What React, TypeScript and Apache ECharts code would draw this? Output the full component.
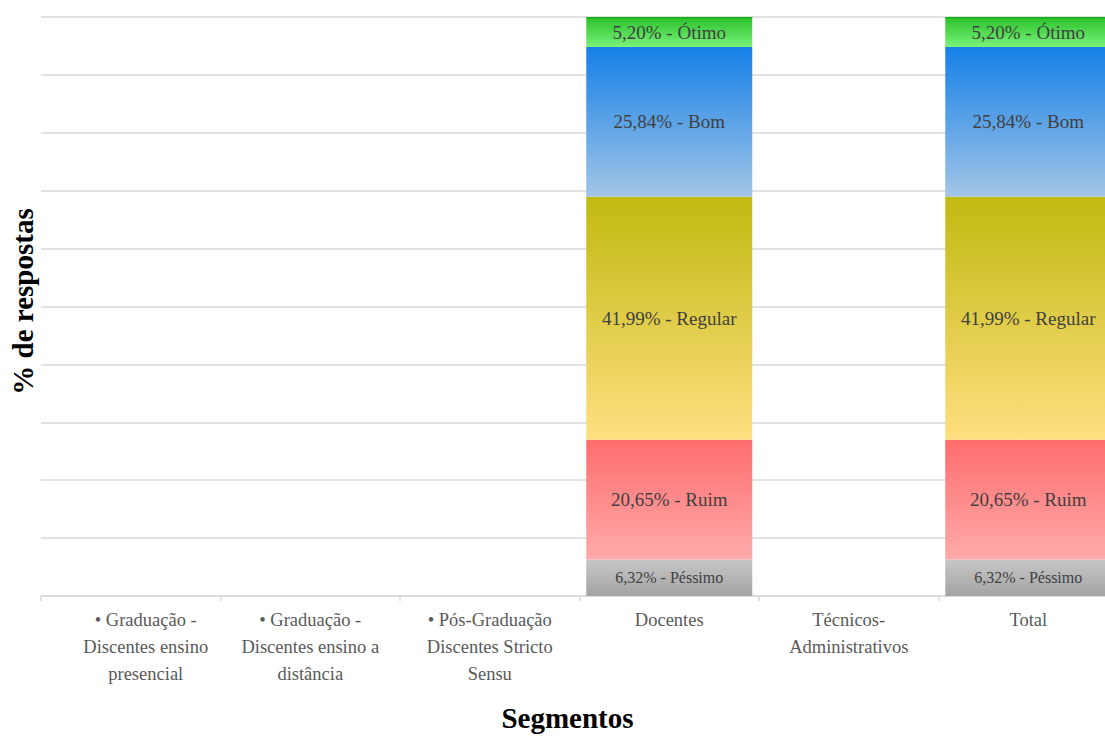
import React, { useEffect, useRef } from "react";
import * as echarts from "echarts";

const categories = [
  "• Graduação -\nDiscentes ensino\npresencial",
  "• Graduação -\nDiscentes ensino a\ndistância",
  "• Pós-Graduação\nDiscentes Stricto\nSensu",
  "Docentes",
  "Técnicos-\nAdministrativos",
  "Total",
];

const seriesNames = ["Péssimo", "Ruim", "Regular", "Bom", "Ótimo"];
const pessimo = [null, null, null, 6.32, null, 6.32];
const ruim = [null, null, null, 20.65, null, 20.65];
const regular = [null, null, null, 41.99, null, 41.99];
const bom = [null, null, null, 25.84, null, 25.84];
const otimo = [null, null, null, 5.2, null, 5.2];
const seriesValues = [pessimo, ruim, regular, bom, otimo];

const yTicks = { min: 0, max: 100, interval: 10 };

const gradients: [string, string][][] = [
  [["0", "#c6c6c6"], ["1", "#a4a4a4"]],
  [["0", "#ff6d6d"], ["1", "#ffaaaa"]],
  [["0", "#c1b910"], ["1", "#ffdf80"]],
  [["0", "#1580e8"], ["1", "#a2c5e6"]],
  [["0", "#00a000"], ["0.06", "#2ec42e"], ["1", "#7af27a"]],
];

const FONT = "Liberation Serif";

export default function App() {
  const ref = useRef<HTMLDivElement>(null);
  useEffect(() => {
    document.body.style.margin = "0";
    document.body.style.overflow = "hidden";
    document.documentElement.style.overflow = "hidden";
    const chart = echarts.init(ref.current!, null, { renderer: "svg" });
    const series = seriesNames.map((name, i) => ({
      name,
      type: "bar",
      stack: "total",
      barWidth: 166,
      data: seriesValues[i],
      itemStyle: {
        color: new echarts.graphic.LinearGradient(
          0, 0, 0, 1,
          gradients[i].map(([o, c]) => ({ offset: parseFloat(o), color: c }))
        ),
      },
      label: {
        show: true,
        position: "inside",
        color: "#404040",
        fontFamily: FONT,
        fontSize: i === 0 ? 16 : 19,
        formatter: (p: any) =>
          p.value == null ? "" : `${Number(p.value).toFixed(2).replace(".", ",")}% - ${name}`,
      },
    }));
    chart.setOption({
      animation: false,
      textStyle: { fontFamily: FONT },
      grid: { left: 40, right: 0, top: 17, bottom: 142 },
      xAxis: {
        type: "category",
        data: categories.map((c, i) =>
          i === 0 ? { value: c, textStyle: { padding: [0, 0, 0, 30] } } : c
        ),
        name: "Segmentos",
        nameLocation: "middle",
        nameGap: 107,
        nameTextStyle: {
          fontFamily: FONT,
          fontSize: 29,
          fontWeight: "bold",
          color: "#000",
          padding: [0, 24, 0, 0],
        },
        axisLine: { lineStyle: { color: "#d9d9d9", width: 1.5 } },
        axisTick: { show: true, length: 5, lineStyle: { color: "#d9d9d9", width: 1.5 } },
        axisLabel: {
          interval: 0,
          margin: 10,
          fontFamily: FONT,
          fontSize: 18.5,
          color: "#595959",
          lineHeight: 27,
        },
      },
      yAxis: {
        type: "value",
        min: yTicks.min,
        max: yTicks.max,
        interval: yTicks.interval,
        name: "% de respostas",
        nameLocation: "middle",
        nameGap: 4,
        nameTextStyle: {
          fontFamily: FONT,
          fontSize: 29,
          fontWeight: "bold",
          color: "#000",
          padding: [0, 0, 0, 10],
        },
        axisLabel: { show: false },
        axisLine: { show: false },
        axisTick: { show: false },
        splitLine: { lineStyle: { color: "#d9d9d9", width: 1.5 } },
      },
      series,
    });
    return () => chart.dispose();
  }, []);
  return <div ref={ref} style={{ width: 1118, height: 738 }} />;
}
